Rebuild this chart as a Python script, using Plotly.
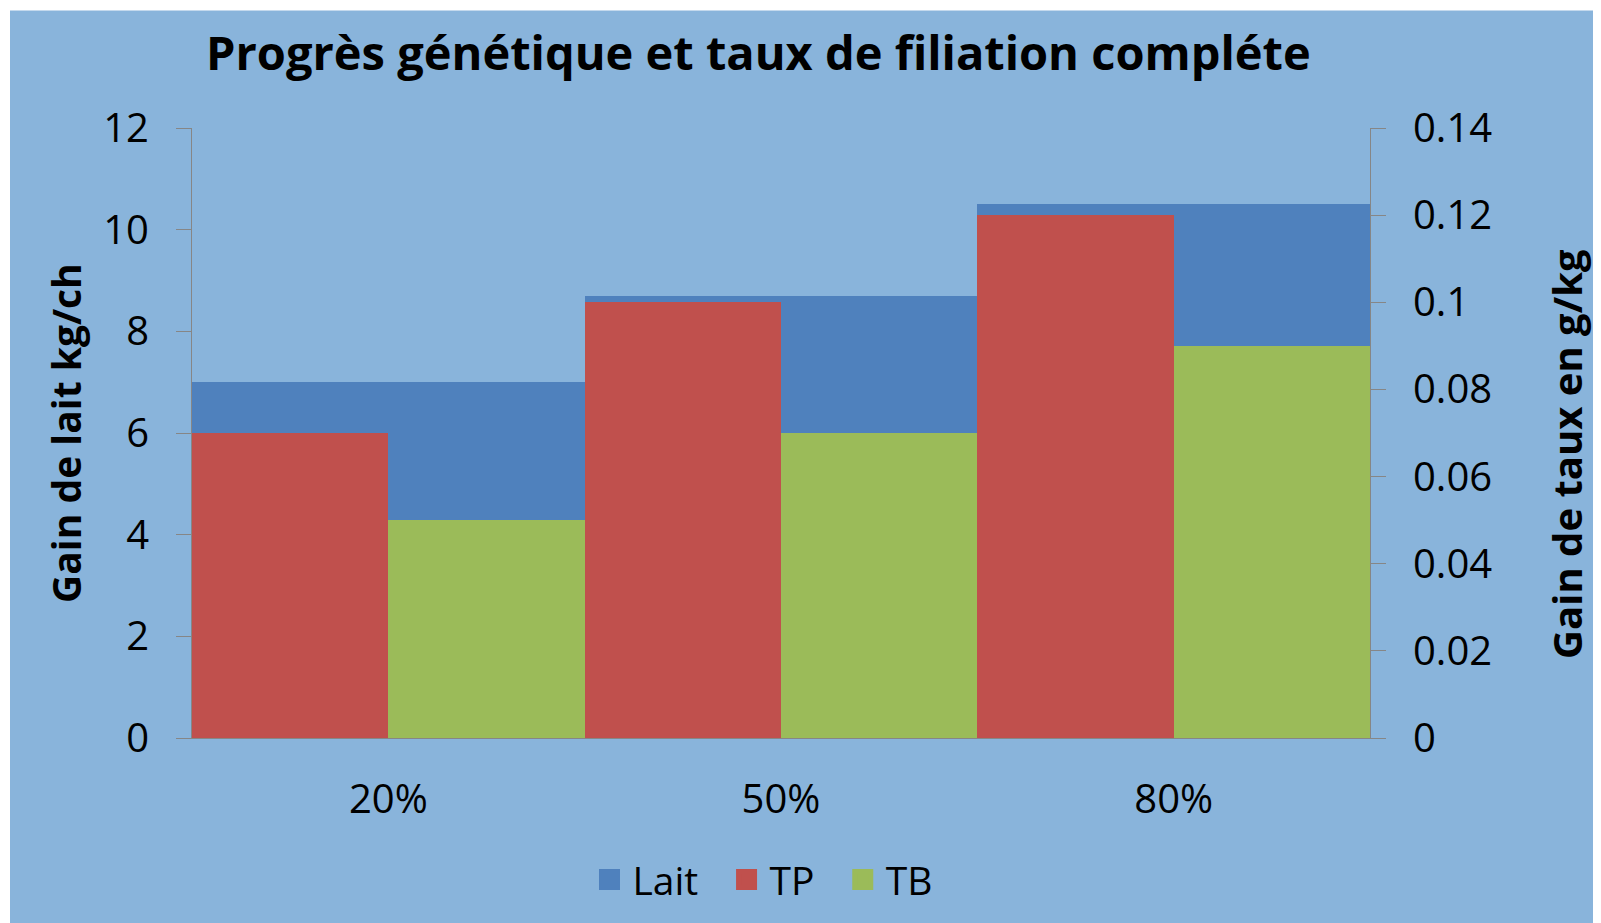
import plotly.graph_objects as go

categories = ["20%", "50%", "80%"]
lait = [7.0, 8.7, 10.5]
tp = [0.07, 0.10, 0.12]
tb = [0.05, 0.07, 0.09]
y1_ticks = [0, 2, 4, 6, 8, 10, 12]
y2_ticks = [0, 0.02, 0.04, 0.06, 0.08, 0.10, 0.12, 0.14]
y2_labels = ["0", "0.02", "0.04", "0.06", "0.08", "0.1", "0.12", "0.14"]
series_names = ["Lait", "TP", "TB"]
series_colors = ["#4F81BD", "#C0504D", "#9BBB59"]

OFF = 8  # page body margin offset
W, H = 1601 - OFF, 923 - OFF
L, R, T, B = 192 - OFF, 1370 - OFF, 128 - OFF, 740 - OFF
FONT = "Open Sans"
BG = "#89B4DB"
AX = "#868686"
NBSP = "\u00a0"


def px(x):
    return (x - OFF - L) / (R - L)


def py(y):
    return (B - (y - OFF)) / (B - T)


fig = go.Figure()
fig.add_trace(go.Bar(x=categories, y=lait, name="Lait", marker_color=series_colors[0],
                     width=1.0, offset=-0.5, yaxis="y", marker_line_width=0,
                     showlegend=False))
fig.add_trace(go.Bar(x=categories, y=tp, name="TP", marker_color=series_colors[1],
                     width=0.5, offset=-0.5, yaxis="y2", marker_line_width=0,
                     showlegend=False))
fig.add_trace(go.Bar(x=categories, y=tb, name="TB", marker_color=series_colors[2],
                     width=0.5, offset=0.0, yaxis="y2", marker_line_width=0,
                     showlegend=False))
# legend entries with larger square swatches
for i, (name, color) in enumerate(zip(series_names, series_colors)):
    label = name + (NBSP * 2 if i < len(series_names) - 1 else "")
    fig.add_trace(go.Scatter(x=[None], y=[None], mode="markers", name=label,
                             marker=dict(symbol="square", size=16, color=color,
                                         line=dict(width=5, color=color)),
                             showlegend=True, hoverinfo="skip"))

tickfont = dict(family=FONT, size=40, color="black")

fig.update_layout(
    width=W, height=H,
    margin=dict(l=L, r=W - R, t=T, b=H - B, pad=0),
    paper_bgcolor="white",
    plot_bgcolor="rgba(0,0,0,0)",
    barmode="overlay",
    bargap=0,
    showlegend=True,
    legend=dict(orientation="h", x=px(762), xanchor="center", y=py(882), yanchor="middle",
                font=dict(family=FONT, size=39, color="black"), bgcolor="rgba(0,0,0,0)",
                traceorder="normal", itemwidth=36, itemsizing="trace"),
    xaxis=dict(type="category", range=[-0.5, 2.5], showgrid=False, zeroline=False,
               showline=True, linecolor=AX, linewidth=1, ticks="", tickfont=tickfont,
               ticklabelstandoff=26),
    yaxis=dict(range=[0, 12], tickvals=y1_ticks, showgrid=False, zeroline=False,
               showline=True, linecolor=AX, linewidth=1, ticks="outside", ticklen=15,
               tickcolor=AX, tickfont=tickfont, ticklabelstandoff=19),
    yaxis2=dict(range=[0, 0.14], tickvals=y2_ticks, ticktext=y2_labels, overlaying="y",
                side="right", showgrid=False, zeroline=False, showline=True, linecolor=AX,
                linewidth=1, ticks="outside", ticklen=15, tickcolor=AX, tickfont=tickfont,
                ticklabelstandoff=19),
    shapes=[dict(type="rect", xref="paper", yref="paper", x0=px(10), x1=px(1610),
                 y0=py(935), y1=py(10), fillcolor=BG, line_width=0, layer="below")],
    annotations=[
        dict(text="<b>Progrès génétique et taux de filiation compléte</b>", xref="paper",
             yref="paper", x=px(758), y=py(52), xanchor="center", yanchor="middle",
             showarrow=False, font=dict(family=FONT, size=47, color="black")),
        dict(text="<b>Gain de lait kg/ch</b>", xref="paper", yref="paper", x=px(65),
             y=py(434), xanchor="center", yanchor="middle", textangle=-90,
             showarrow=False, font=dict(family=FONT, size=39, color="black")),
        dict(text="<b>Gain de taux en g/kg</b>", xref="paper", yref="paper", x=px(1567),
             y=py(455), xanchor="center", yanchor="middle", textangle=-90,
             showarrow=False, font=dict(family=FONT, size=40, color="black")),
    ],
)

fig.write_html("out.html")
